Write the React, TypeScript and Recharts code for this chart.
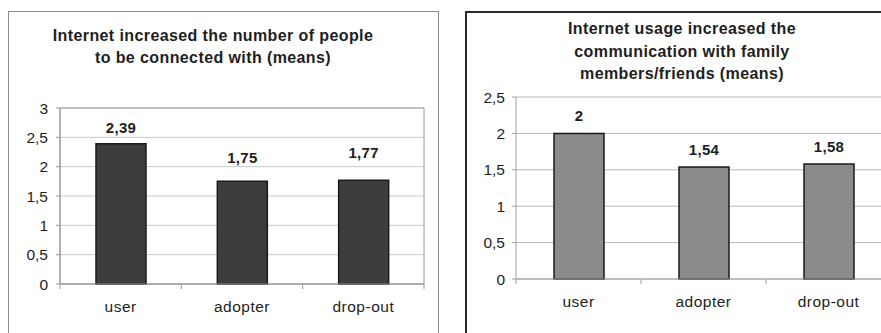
import { BarChart, Bar, XAxis, YAxis, CartesianGrid, LabelList, ReferenceArea } from "recharts";

const CATEGORIES = ["user", "adopter", "drop-out"];
const CONNECTED_MEANS = [2.39, 1.75, 1.77];
const FAMILY_MEANS = [2, 1.54, 1.58];
const CONNECTED_TICKS = [0, 0.5, 1, 1.5, 2, 2.5, 3];
const FAMILY_TICKS = [0, 0.5, 1, 1.5, 2, 2.5];

const FONT = '"Liberation Sans", Arial, sans-serif';
const Y_AXIS_WIDTH = 40;
const X_AXIS_HEIGHT = 30;

// decimal comma, as in the printed charts
const fmt = (v: number | string) => String(v).replace(".", ",");

interface MeansChartProps {
  values: number[];
  ticks: number[];
  left: number;
  width: number;
  plot: { left: number; right: number; top: number; bottom: number };
  fill: string;
  gridColor: string;
  axisColor: string;
  framed?: boolean;
  labelGaps: number[];
  tickTextGap: number;
}

const MeansChart = ({ values, ticks, left, width, plot, fill, gridColor, axisColor, framed, labelGaps, tickTextGap }: MeansChartProps) => {
  const height = 333;
  const rows = CATEGORIES.map((name, i) => ({ name, value: values[i] }));
  const band = (plot.right - plot.left) / CATEGORIES.length;
  const max = ticks[ticks.length - 1];

  const XTick = (props: any) => {
    const { x, y, payload, index } = props;
    return (
      <g>
        <line x1={x - band / 2} y1={y} x2={x - band / 2} y2={y + 5} stroke={axisColor} />
        {index === CATEGORIES.length - 1 && (
          <line x1={x + band / 2} y1={y} x2={x + band / 2} y2={y + 5} stroke={axisColor} />
        )}
        <text x={x} y={y + 28} textAnchor="middle" fontSize={15.5} letterSpacing={0.5} fontFamily={FONT} fill="#1e1e1e">
          {payload.value}
        </text>
      </g>
    );
  };

  const ValueLabel = (props: any) => {
    const { x, y, width: w, value, index } = props;
    return (
      <text x={x + w / 2} y={y - labelGaps[index]} textAnchor="middle" fontSize={15} fontWeight="bold" letterSpacing={0.3} fontFamily={FONT} fill="#1e1e1e">
        {fmt(value)}
      </text>
    );
  };

  return (
    <div style={{ position: "absolute", left, top: 0 }}>
      <BarChart
        width={width}
        height={height}
        data={rows}
        margin={{
          left: plot.left - Y_AXIS_WIDTH,
          right: width - plot.right,
          top: plot.top,
          bottom: height - plot.bottom - X_AXIS_HEIGHT,
        }}
        barCategoryGap={0}
      >
        <CartesianGrid vertical={false} stroke={gridColor} />
        {framed && <ReferenceArea y1={0} y2={max} fill="none" stroke={axisColor} ifOverflow="visible" />}
        <XAxis
          dataKey="name"
          height={X_AXIS_HEIGHT}
          interval={0}
          tickSize={0}
          tickMargin={0}
          tickLine={false}
          axisLine={{ stroke: axisColor }}
          tick={<XTick />}
        />
        <YAxis
          type="number"
          width={Y_AXIS_WIDTH}
          domain={[0, max]}
          ticks={ticks}
          interval={0}
          tickSize={4}
          tickMargin={tickTextGap}
          tickFormatter={fmt}
          axisLine={{ stroke: axisColor }}
          tickLine={{ stroke: axisColor }}
          tick={{ fill: "#1e1e1e", fontSize: 15.5, fontFamily: FONT }}
        />
        <Bar dataKey="value" fill={fill} stroke="#1a1a1a" strokeWidth={1.5} barSize={50} isAnimationActive={false}>
          <LabelList dataKey="value" content={<ValueLabel />} />
        </Bar>
      </BarChart>
    </div>
  );
};

const titleStyle = {
  position: "absolute" as const,
  fontFamily: FONT,
  fontWeight: "bold" as const,
  fontSize: 16,
  letterSpacing: "0.4px",
  lineHeight: "22px",
  textAlign: "center" as const,
  color: "#1e1e1e",
};

export default function App() {
  return (
    <div style={{ position: "absolute", left: 0, top: 0, width: 881, height: 333, overflow: "hidden", background: "#fff" }}>
      <div style={{ position: "absolute", left: 8, top: 11, width: 429, height: 340, border: "1px solid #8c8c8c" }} />
      <div style={{ position: "absolute", left: 465, top: 11, width: 500, height: 340, border: "2px solid #2a2a2a" }} />

      <div style={{ ...titleStyle, left: 13, top: 25, width: 400 }}>
        Internet increased the number of people
        <br />
        to be connected with (means)
      </div>
      <div style={{ ...titleStyle, left: 482, top: 18, width: 400, lineHeight: "22.5px" }}>
        Internet usage increased the
        <br />
        communication with family
        <br />
        members/friends (means)
      </div>

      <MeansChart
        values={CONNECTED_MEANS}
        ticks={CONNECTED_TICKS}
        left={0}
        width={440}
        plot={{ left: 60, right: 424, top: 108, bottom: 284 }}
        fill="#3d3d3f"
        gridColor="#c8c8c8"
        axisColor="#9a9a9a"
        framed
        labelGaps={[11, 18, 22]}
        tickTextGap={8}
      />
      <MeansChart
        values={FAMILY_MEANS}
        ticks={FAMILY_TICKS}
        left={440}
        width={460}
        plot={{ left: 76, right: 451, top: 97, bottom: 279 }}
        fill="#8a8b8d"
        gridColor="#b8b8b8"
        axisColor="#a0a0a0"
        labelGaps={[12, 12, 12]}
        tickTextGap={7}
      />
    </div>
  );
}
